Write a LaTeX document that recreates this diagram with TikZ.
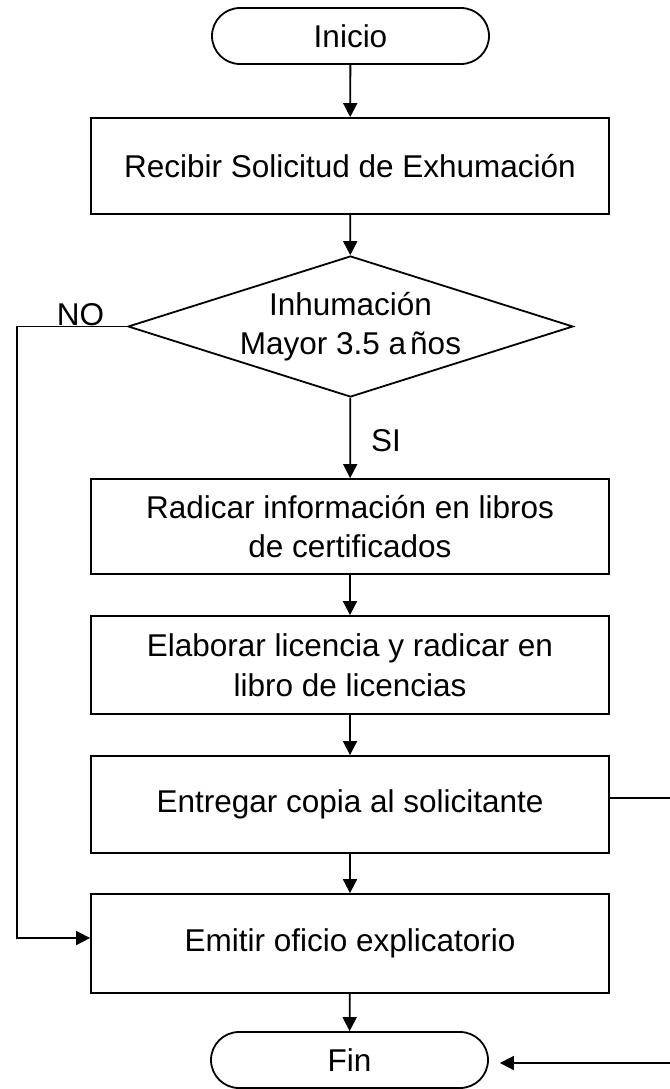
\documentclass[tikz,border=0pt]{standalone}
\usepackage{fontspec}
\setmainfont{Liberation Sans}
\usetikzlibrary{arrows.meta,shapes.geometric}
\begin{document}
\begin{tikzpicture}[x=1pt,y=-1pt,
  txt/.style={font=\fontsize{31.5}{39.5}\selectfont,align=center,inner sep=0pt},
  base/.style={txt,draw=black,line width=1.8pt},
  procbox/.style={base,rectangle,minimum width=518pt},
  term/.style={base,rectangle,rounded corners=28pt,minimum width=277pt,minimum height=56pt},
  decis/.style={base,diamond,aspect=3.15,minimum width=445pt,minimum height=141pt},
  conn/.style={line width=1.8pt,-{Triangle[length=14pt,width=14pt]}}]
\useasboundingbox (0,0) rectangle (669,1089);
\node[term] (ini) at (350.5,36) {Inicio};
\node[procbox,minimum height=96pt] (rec) at (350,166) {Recibir Solicitud de Exhumación};
\node[decis] (dec) at (350.5,326.5) {Inhumación\\Mayor 3.5 a\hspace{4pt}ños};
\node[procbox,minimum height=95pt] (rad) at (350,526.5) {Radicar información en libros\\de certificados};
\node[procbox,minimum height=98pt] (ela) at (350,665) {Elaborar licencia y radicar en\\libro de licencias};
\node[procbox,minimum height=97pt] (ent) at (350,804.5) {Entregar copia al solicitante};
\node[procbox,minimum height=99pt] (emi) at (350,943.5) {Emitir oficio explicatorio};
\node[term] (fin) at (349.5,1060) {Fin};
\node[txt,anchor=base] (no) at (80.5,325) {NO};
\node[txt,anchor=base] (si) at (386,451) {SI};
\draw[conn] (ini) -- (rec);
\draw[conn] (rec) -- (dec);
\draw[conn] (dec) -- (rad);
\draw[conn] (rad) -- (ela);
\draw[conn] (ela) -- (ent);
\draw[conn] (ent) -- (emi);
\draw[conn] (emi) -- (fin);
\coordinate (nA) at (17,326.5);
\coordinate (nB) at (17,938);
\draw[conn] (dec.west) -- (nA) -- (nB) -- (nB -| emi.west);
\coordinate (rA) at (671,798);
\coordinate (rB) at (671,1063);
\draw[conn,shorten >=11pt] (rA -| ent.east) -- (rA) -- (rB) -- (rB -| fin.east);
\end{tikzpicture}
\end{document}
